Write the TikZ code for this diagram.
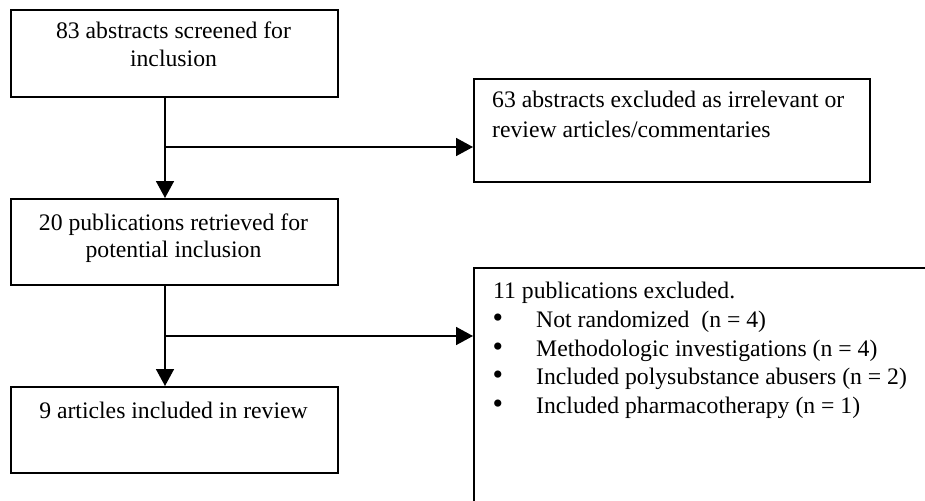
\documentclass[tikz,border=0pt]{standalone}
\usepackage{fontspec}
\setmainfont{Liberation Serif}
\usetikzlibrary{arrows.meta}
\begin{document}
\begin{tikzpicture}[x=1pt,y=-1pt,
  box/.style={draw,line width=1.8pt,rectangle,inner sep=0pt,anchor=north west},
  txt/.style={anchor=base west,inner sep=0pt,font=\fontsize{23.7}{28.7}\selectfont},
  ctxt/.style={anchor=base,inner sep=0pt,font=\fontsize{23.7}{28.7}\selectfont},
  bul/.style={anchor=base west,inner sep=0pt,font=\fontsize{30}{30}\selectfont},
  conn/.style={line width=1.6pt,-{Triangle[length=17pt,width=18pt]}}]
\useasboundingbox (0,0) rectangle (925,500);
\clip (0,0) rectangle (925,500);
% boxes
\node[box,minimum width=327pt,minimum height=87pt] (b1) at (10,9) {};
\node[box,minimum width=327pt,minimum height=86pt] (b2) at (10,198) {};
\node[box,minimum width=327pt,minimum height=86pt] (b4) at (10,386) {};
\node[box,minimum width=396pt,minimum height=103pt] (b3) at (473,78) {};
\node[box,minimum width=480pt,minimum height=270pt] (b5) at (473,267) {};
% texts
\node[ctxt] (t1a) at (173.5,39) {83 abstracts screened for};
\node[ctxt] (t1b) at (173.5,67) {inclusion};
\node[ctxt] (t2a) at (173.5,230) {20 publications retrieved for};
\node[ctxt] (t2b) at (173.5,257) {potential inclusion};
\node[ctxt] (t4) at (173.5,418) {9 articles included in review};
\node[txt] (t3a) at (492,108) {63 abstracts excluded as irrelevant or};
\node[txt] (t3b) at (492,137) {review articles/commentaries};
\node[txt] (t5) at (493,298) {11 publications excluded.};
\foreach \y/\t [count=\i] in {327/{Not randomized\ \ (n = 4)},356/{Methodologic investigations (n = 4)},384/{Included polysubstance abusers (n = 2)},413/{Included pharmacotherapy (n = 1)}}{
  \node[bul] (bu\i) at (492.5,\y) {\textbullet};
  \node[txt] (li\i) at (536,\y) {\t};
}
% connectors
\coordinate (j1) at (165,147);
\coordinate (j2) at (165,336);
\draw[conn] (j1 |- b1.south) -- (j1 |- b2.north);
\draw[conn] (j1) -- (j1 -| b3.west);
\draw[conn] (j2 |- b2.south) -- (j2 |- b4.north);
\draw[conn] (j2) -- (j2 -| b5.west);
\end{tikzpicture}
\end{document}
